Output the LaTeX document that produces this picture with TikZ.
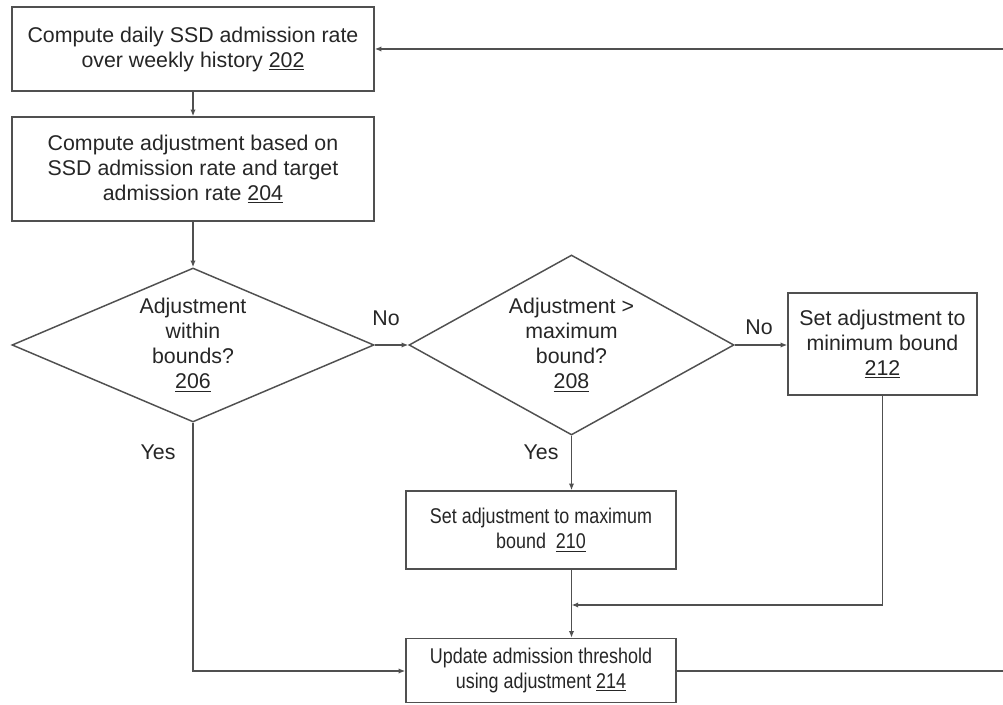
\documentclass[tikz,border=0pt]{standalone}
\usepackage{fontspec}
\setmainfont{Liberation Sans}
\newfontfamily\condfont[FakeStretch=0.84]{Liberation Sans}
\usetikzlibrary{shapes.geometric,arrows.meta}
\definecolor{linec}{HTML}{505050}
\definecolor{textc}{HTML}{262626}
\begin{document}
\begin{tikzpicture}[x=0.75pt,y=-0.75pt,
  every node/.style={text=textc,font=\fontsize{16}{18.75}\selectfont},
  procbox/.style={draw=linec,line width=1.1pt,rectangle,inner sep=0pt,align=center},
  decbox/.style={draw=linec,line width=1.1pt,diamond,inner sep=0pt},
  dtext/.style={align=center,inner sep=0pt},
  conn/.style={draw=linec,line width=1.1pt},
  arr/.style={conn,-{Latex[length=5pt,width=4pt]}},
  lbl/.style={inner sep=0pt}]
\useasboundingbox (0,0) rectangle (1003,705);
\clip (0,0) rectangle (1003,705);
\fill[white] (0,0) rectangle (1003,705);

\node[procbox,minimum width=271.5pt,minimum height=63pt] (b202) at (193,49)
  {Compute daily SSD admission rate\\over weekly history \underline{202}};
\node[procbox,minimum width=271.5pt,minimum height=78pt] (b204) at (193,169)
  {Compute adjustment based on\\SSD admission rate and target\\admission rate \underline{204}};
\node[decbox,minimum width=271.5pt,minimum height=115.5pt,
  label={[dtext]center:{Adjustment\\within\\bounds?\\\underline{206}}}] (d206) at (193,345) {};
\node[decbox,minimum width=243.75pt,minimum height=135pt,
  label={[dtext]center:{Adjustment >\\maximum\\bound?\\\underline{208}}}] (d208) at (571.5,345) {};
\node[procbox,minimum width=141.75pt,minimum height=76.5pt] (b212) at (882.5,344)
  {Set adjustment to\\minimum bound\\\underline{212}};
\node[procbox,minimum width=202.5pt,minimum height=58.5pt,font=\condfont\fontsize{16}{18.75}\selectfont] (b210) at (541,530)
  {Set adjustment to maximum\\bound \ \underline{210}};
\node[procbox,minimum width=202.5pt,minimum height=48pt,font=\condfont\fontsize{16}{18.75}\selectfont] (b214) at (541,670.5)
  {Update admission threshold\\using adjustment \underline{214}};

\coordinate (j) at (571.5,605);
\coordinate (loopbot) at (1015,671);
\coordinate (looptop) at (1015,49);

\draw[arr] (b202) -- (b204);
\draw[arr] (b204) -- (d206);
\draw[arr] (d206.east) -- (d208.west);
\draw[arr] (d208.east) -- (b212.west |- d208.east);
\draw[arr] (d208.south) -- (d208.south |- b210.north);
\draw[conn] (b212.south) -- (b212.south |- j);
\draw[arr] (b212.south |- j) -- (j);
\draw[arr] (d208.south |- b210.south) -- (d208.south |- b214.north);
\draw[arr] (d206.south) |- (b214.west |- loopbot);
\draw[conn] (b214.east |- loopbot) -- (loopbot) -- (looptop);
\draw[arr] (looptop) -- (b202.east);

\node[lbl] (no1) at (386,318) {No};
\node[lbl] (no2) at (759,327) {No};
\node[lbl] (yes1) at (158,452) {Yes};
\node[lbl] (yes2) at (541,452) {Yes};
\end{tikzpicture}
\end{document}
